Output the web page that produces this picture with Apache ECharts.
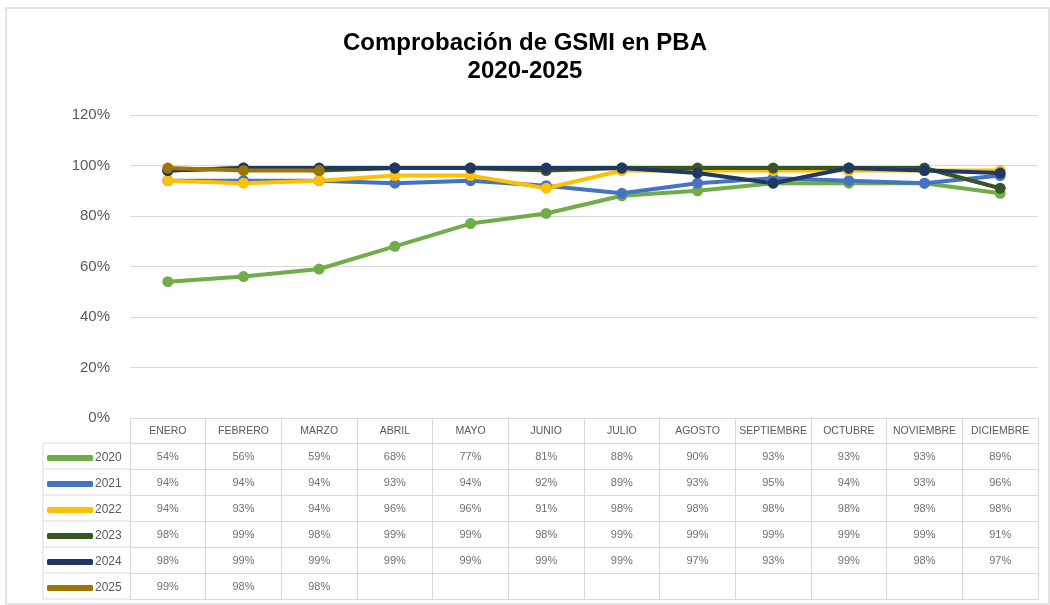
<!DOCTYPE html>
<html>
<head>
<meta charset="utf-8">
<script src="https://cdn.jsdelivr.net/npm/echarts@6/dist/echarts.min.js"></script>
<style>
  html, body { margin: 0; padding: 0; background: #fff; }
  #card { width: 1050px; height: 605px; }
</style>
</head>
<body>
<div id="card"></div>
<script>
// months shown in the table header
const months = ['ENERO', 'FEBRERO', 'MARZO', 'ABRIL', 'MAYO', 'JUNIO', 'JULIO',
  'AGOSTO', 'SEPTIEMBRE', 'OCTUBRE', 'NOVIEMBRE', 'DICIEMBRE'];

const years = ['2020', '2021', '2022', '2023', '2024', '2025'];

// percentages
const v2020 = [54, 56, 59, 68, 77, 81, 88, 90, 93, 93, 93, 89];
const v2021 = [94, 94, 94, 93, 94, 92, 89, 93, 95, 94, 93, 96];
const v2022 = [94, 93, 94, 96, 96, 91, 98, 98, 98, 98, 98, 98];
const v2023 = [98, 99, 98, 99, 99, 98, 99, 99, 99, 99, 99, 91];
const v2024 = [98, 99, 99, 99, 99, 99, 99, 97, 93, 99, 98, 97];
const v2025 = [99, 98, 98];

const yTicks = [0, 20, 40, 60, 80, 100, 120];

const colors = ['#70AD47', '#4472C4', '#FFC000', '#375623', '#1F3864', '#9C7600'];
const rows = [v2020, v2021, v2022, v2023, v2024, v2025];

const gridColor = '#d9d9d9';
const textGrey = '#595959';
const headerH = 25;
const rowH = 26;

const chart = echarts.init(document.getElementById('card'));

// header axis + one axis per table row, each one drawn under the previous
let xAxes = [{
  type: 'category',
  data: months,
  position: 'bottom',
  boundaryGap: true,
  axisLine: { show: true, lineStyle: { color: gridColor } },
  axisTick: { show: true, interval: 0, length: headerH, lineStyle: { color: gridColor } },
  axisLabel: { interval: 0, margin: 8, fontSize: 10.5, color: textGrey, fontFamily: 'Liberation Sans' }
}];

rows.forEach((vals, k) => {
  xAxes.push({
    type: 'category',
    data: months,
    position: 'bottom',
    offset: headerH + rowH * k,
    boundaryGap: true,
    axisLine: { show: true, lineStyle: { color: gridColor } },
    axisTick: { show: true, interval: 0, length: rowH, lineStyle: { color: gridColor } },
    axisLabel: {
      interval: 0, margin: 8, fontSize: 11, color: '#707070', fontFamily: 'Liberation Sans',
      formatter: (val, i) => (vals[i] == null ? '' : vals[i] + '%')
    }
  });
});

// bottom border of the table
xAxes.push({
  type: 'category',
  data: months,
  position: 'bottom',
  offset: headerH + rowH * rows.length,
  axisLine: { show: true, lineStyle: { color: gridColor } },
  axisTick: { show: false },
  axisLabel: { show: false }
});

const gridLeft = 130;
const gridBottomY = 418;
const tableTop = gridBottomY + headerH;
const tableBottom = gridBottomY + headerH + rowH * rows.length;

// lines of the legend column on the left of the table
let legendLines = [];
for (let k = 0; k <= rows.length; k++) {
  const y = tableTop + rowH * k;
  legendLines.push({
    type: 'line',
    shape: { x1: 43, y1: y, x2: gridLeft, y2: y },
    style: { stroke: gridColor, lineWidth: 1 }
  });
}
legendLines.push({
  type: 'line',
  shape: { x1: 43, y1: tableTop, x2: 43, y2: tableBottom },
  style: { stroke: gridColor, lineWidth: 1 }
});

let option = {
  color: colors,
  animation: false,
  title: {
    text: 'Comprobación de GSMI en PBA\n2020-2025',
    left: 'center',
    top: 24,
    textStyle: {
      fontFamily: 'Liberation Sans', fontSize: 24, fontWeight: 'bold',
      color: '#000', lineHeight: 28
    }
  },
  legend: {
    data: years,
    orient: 'vertical',
    left: 47,
    top: tableTop + 9,
    height: 170,
    itemWidth: 46,
    itemHeight: 6,
    itemGap: rowH - 12,
    icon: 'roundRect',
    padding: 0,
    textStyle: {
      fontSize: 12, lineHeight: 12, color: textGrey,
      fontFamily: 'Liberation Sans', padding: [0, 0, 0, -3]
    }
  },
  grid: { left: gridLeft, right: 12, top: 115, bottom: 605 - gridBottomY, containLabel: false },
  xAxis: xAxes,
  yAxis: {
    type: 'value',
    min: yTicks[0],
    max: yTicks[yTicks.length - 1],
    interval: 20,
    axisLine: { show: false },
    axisTick: { show: false },
    splitLine: { lineStyle: { color: gridColor, width: 1 } },
    axisLabel: {
      formatter: '{value}%', fontSize: 15, color: textGrey,
      fontFamily: 'Liberation Sans', margin: 20
    }
  },
  series: years.map((y, k) => ({
    name: y,
    type: 'line',
    data: rows[k],
    symbol: 'circle',
    symbolSize: 11,
    lineStyle: { width: 4 },
    itemStyle: { color: colors[k] }
  })),
  graphic: [
    {
      type: 'rect',
      z: -10,
      shape: { x: 6, y: 8, width: 1043, height: 596 },
      style: { fill: 'none', stroke: gridColor, lineWidth: 1.5 }
    },
    ...legendLines
  ]
};

chart.setOption(option);
</script>
</body>
</html>
